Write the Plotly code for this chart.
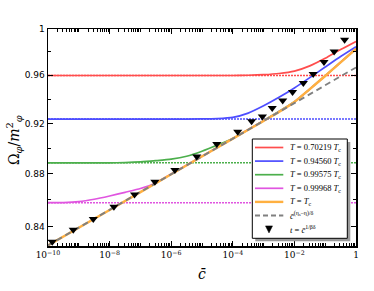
import plotly.graph_objects as go

# ---------------- data ----------------
# x values are given as log10(c̄)
red_e = [-10, -6, -4, -3.5, -3, -2.5, -2, -1.5, -1, -0.5, 0]
red_v = [0.9598, 0.9598, 0.9598, 0.9600, 0.9605, 0.9615, 0.9635, 0.9680, 0.9745, 0.9820, 0.9891]

blue_e = [-10, -8, -6, -5, -4.5, -4, -3.5, -3, -2.5, -2, -1.5, -1, -0.5, 0]
blue_v = [0.9236, 0.9236, 0.9236, 0.9237, 0.9240, 0.9250, 0.9285, 0.9345, 0.9415, 0.9493,
          0.9580, 0.9670, 0.9760, 0.9845]

green_e = [-10, -8, -7.5, -7, -6.5, -6, -5.5, -5, -4.5, -4, -3, -2, -1, 0]
green_v = [0.8886, 0.8886, 0.8888, 0.8893, 0.8903, 0.8915, 0.8938, 0.8978, 0.9027, 0.9080,
           0.9224, 0.9378, 0.9596, 0.9829]

mag_e = [-10, -9.5, -9, -8.5, -8, -7.5, -7, -6.5, -6, -5, -4, -3, -2, -1, 0]
mag_v = [0.8579, 0.8580, 0.8587, 0.8605, 0.8630, 0.8658, 0.8687, 0.8730, 0.8799, 0.8938,
         0.9079, 0.9222, 0.9377, 0.9595, 0.9828]

crit_e = [-10, -8, -6, -4, -3, -2.5, -2, -1.5, -1, -0.5, 0]
crit_v = [0.8262, 0.8524, 0.8797, 0.9078, 0.9221, 0.9294, 0.9376, 0.9484, 0.9594, 0.9710, 0.9827]

dash_e = [-10, 0]
dash_v = [0.8262, 0.9666]

tri_e = [-9.86, -9.18, -8.53, -7.86, -7.19, -6.53, -5.88, -5.17, -4.52, -3.84,
         -3.39, -3.04, -2.72, -2.38, -2.06, -1.71, -1.39, -1.04, -0.71, -0.37]
tri_v = [0.8288, 0.8376, 0.8456, 0.8549, 0.8642, 0.8739, 0.8831, 0.8936, 0.9035, 0.9134,
         0.9218, 0.9257, 0.9326, 0.9389, 0.9459, 0.9534, 0.9610, 0.9713, 0.9804, 0.9906]

asym_v = [0.9598, 0.9236, 0.8886, 0.8579]   # dotted asymptotes (red, blue, green, magenta)

labels = ["<i>T</i> = 0.70219 <i>T</i><sub>c</sub>",
          "<i>T</i> = 0.94560 <i>T</i><sub>c</sub>",
          "<i>T</i> = 0.99575 <i>T</i><sub>c</sub>",
          "<i>T</i> = 0.99968 <i>T</i><sub>c</sub>",
          "<i>T</i> = <i>T</i><sub>c</sub>",
          "<i>c̄</i><sup>(η<sub>s</sub>−η)/δ</sup>",
          "<i>t</i> = <i>c̄</i><sup>1/βδ</sup>"]

x_label_exp = [-10, -8, -6, -4, -2, 0]
x_label_text = ["10<sup>−10</sup>", "10<sup>−8</sup>", "10<sup>−6</sup>",
                "10<sup>−4</sup>", "10<sup>−2</sup>", "1"]
y_tick_vals = [0.84, 0.88, 0.92, 0.96, 1.0]
y_tick_text = ["0.84", "0.88", "0.92", "0.96", "1"]
y_minor_vals = [0.86, 0.90, 0.94, 0.98]

# ---------------- styling ----------------
RED, BLUE, GREEN, MAG, ORANGE, GRAY = "#ff4d4d", "#4d4dff", "#4caf4c", "#e055e0", "#ffb040", "#808080"
cols = [RED, BLUE, GREEN, MAG]

W, H = 374, 291
L, R, T, B = 48, 18, 29, 45
PW, PH = W - L - R, H - T - B

def px(x):
    return (x - L) / PW

def py(y):
    return (H - B - y) / PH

def tox(e):
    return [10 ** v for v in e]

fig = go.Figure()

for v, c in zip(asym_v, cols):
    fig.add_trace(go.Scatter(x=[1e-10, 1], y=[v, v], mode="lines",
                             line=dict(color=c, width=1.5, dash="2px,1px"),
                             showlegend=False, hoverinfo="skip"))

for e, v, c in [(red_e, red_v, RED), (blue_e, blue_v, BLUE), (green_e, green_v, GREEN),
                (mag_e, mag_v, MAG)]:
    fig.add_trace(go.Scatter(x=tox(e), y=v, mode="lines",
                             line=dict(color=c, width=1.7, shape="spline", smoothing=0.6),
                             showlegend=False))

fig.add_trace(go.Scatter(x=tox(crit_e), y=crit_v, mode="lines",
                         line=dict(color=ORANGE, width=2.4, shape="spline", smoothing=0.6),
                         showlegend=False))
fig.add_trace(go.Scatter(x=tox(dash_e), y=dash_v, mode="lines",
                         line=dict(color=GRAY, width=1.8, dash="6px,4px"),
                         showlegend=False))
fig.add_trace(go.Scatter(x=tox(tri_e), y=tri_v, mode="markers",
                         marker=dict(symbol="triangle-down", size=8, color="black"),
                         showlegend=False))

axis_common = dict(showline=True, linecolor="black", linewidth=1.5, mirror="allticks",
                   ticks="inside", ticklen=5, tickwidth=1, tickcolor="black",
                   showgrid=False, zeroline=False)

x_minor = [m * 10 ** k for k in range(-10, 0) for m in range(2, 10)] + \
          [10 ** k for k in (-9, -7, -5, -3, -1)]
fig.update_xaxes(type="log", range=[-10, 0],
                 tickvals=[10 ** k for k in x_label_exp], ticktext=x_label_text,
                 tickfont=dict(family="DejaVu Serif", size=9, color="black"),
                 minor=dict(tickvals=x_minor, ticks="inside", ticklen=3, tickcolor="black"),
                 **axis_common)
fig.update_yaxes(type="log", range=[-0.08315, 0],
                 tickvals=y_tick_vals, ticktext=y_tick_text,
                 tickfont=dict(family="DejaVu Sans", size=9, color="black"),
                 minor=dict(tickvals=y_minor_vals, ticks="inside", ticklen=3, tickcolor="black"),
                 **axis_common)

# ---------------- legend (drawn manually) ----------------
shapes = []
bx0, by0, bx1, by1 = 252.3, 139, 347.3, 238.3
shapes.append(dict(type="rect", xref="paper", yref="paper", x0=px(bx0 + 3), x1=px(bx1 + 3),
                   y0=py(by1 + 3), y1=py(by0 + 3), fillcolor="#9a9a9a", line=dict(width=0)))
shapes.append(dict(type="rect", xref="paper", yref="paper", x0=px(bx0), x1=px(bx1),
                   y0=py(by1), y1=py(by0), fillcolor="white", line=dict(color="black", width=1)))
row_y = [147.5 + 13.6 * i for i in range(7)]
samp = [(RED, 1.7, "solid"), (BLUE, 1.7, "solid"), (GREEN, 1.7, "solid"), (MAG, 1.7, "solid"),
        (ORANGE, 2.4, "solid"), (GRAY, 1.8, "5px,3px")]
for (c, w, d), yy in zip(samp, row_y):
    shapes.append(dict(type="line", xref="paper", yref="paper", x0=px(255), x1=px(283.3),
                       y0=py(yy), y1=py(yy), line=dict(color=c, width=w, dash=d)))
ty = row_y[6]
tri_path = "M %f %f L %f %f L %f %f Z" % (px(265.5), py(ty - 3.2), px(272.5), py(ty - 3.2),
                                           px(269), py(ty + 3.8))
shapes.append(dict(type="path", xref="paper", yref="paper", path=tri_path,
                   fillcolor="black", line=dict(color="black", width=0.5)))

annotations = []
for lab, yy in zip(labels, row_y):
    annotations.append(dict(text=lab, xref="paper", yref="paper", x=px(288), y=py(yy),
                            xanchor="left", yanchor="middle", showarrow=False,
                            font=dict(family="Liberation Serif", size=8.5, color="black")))

annotations.append(dict(text="Ω<sub><i>φ</i></sub>/<i>m</i><sup>2</sup><sub><i>φ</i></sub>",
                        xref="paper", yref="paper", x=px(14), y=py(140), textangle=-90,
                        xanchor="center", yanchor="middle", showarrow=False,
                        font=dict(family="DejaVu Serif", size=14, color="black")))
annotations.append(dict(text="<i>c̄</i>", xref="paper", yref="paper", x=px(202), y=py(274),
                        xanchor="center", yanchor="middle", showarrow=False,
                        font=dict(family="DejaVu Serif", size=14, color="black")))

fig.update_layout(width=W, height=H, margin=dict(l=L, r=R, t=T, b=B),
                  paper_bgcolor="white", plot_bgcolor="white",
                  shapes=shapes, annotations=annotations, showlegend=False)

fig.write_html("out.html", config={"displayModeBar": False, "staticPlot": True},
               post_script="document.body.style.margin='0px';")
